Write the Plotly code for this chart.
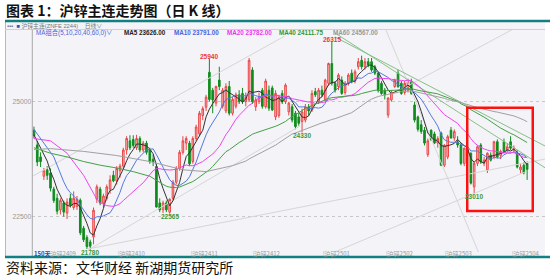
import plotly.graph_objects as go
import pandas as pd

# ---------------- data ----------------
opens = [24380, 24060, 23800, 23380, 23520, 23450, 23100, 22900, 22650, 22800,
         22580, 22900, 22700, 22720, 22860, 22250, 22050, 21950, 22060, 22880,
         23100, 22800, 22900, 23100, 23400, 23280, 23500, 23600, 23950, 24150,
         24180, 24000, 24200, 23950, 24100, 23950, 23750, 23590, 22800, 22650,
         22800, 22600, 22900, 23250, 23550, 23900, 24100, 24100, 23700, 24200,
         24300, 24700, 24880, 25640, 25250, 24970, 25470, 24900, 24800, 25330,
         24750, 24900, 25150, 25180, 25000, 25040, 25690, 24890, 25000, 25250,
         24890, 25250, 25300, 24670, 24700, 25180, 25000, 24780, 24890, 24750,
         24670, 24570, 24600, 24890, 24820, 25220, 25000, 25250, 25040, 25400,
         25830, 25400, 25330, 25470, 25200, 25400, 25620, 25450, 25760, 25900,
         25760, 25870, 25870, 25760, 25620, 25400, 25250, 24710, 25040, 25330,
         25620, 25400, 25200, 25250, 25450, 24930, 24670, 24500, 24380, 23850,
         24380, 24300, 24100, 24320, 23620, 23800, 24380, 24210, 24130, 24060,
         23660, 23950, 23880, 23150, 23660, 24060, 23660, 23520, 23840, 23800,
         24130, 23830, 24130, 23950, 24130, 23950, 23880, 23520, 23620, 23660]
highs = [24460, 24150, 23900, 23560, 23600, 23550, 23150, 23000, 22900, 22850,
         22900, 23000, 23050, 22950, 22900, 22300, 22100, 22000, 22700, 23200,
         23150, 23000, 23200, 23400, 23500, 23600, 23650, 24000, 24250, 24270,
         24270, 24280, 24250, 24150, 24150, 24000, 23850, 23650, 22900, 22850,
         22850, 22900, 23300, 23600, 23950, 24250, 24250, 24150, 24250, 24500,
         24800, 24900, 25150, 25940, 25300, 25350, 25760, 25300, 25400, 25450,
         25100, 25200, 25250, 25300, 25200, 25950, 25750, 25100, 25200, 25300,
         25500, 25350, 25350, 25250, 25150, 25250, 25400, 25000, 24950, 24800,
         24750, 24850, 24950, 24950, 25250, 25300, 25300, 25350, 25500, 25850,
         26315, 25450, 25620, 25550, 25450, 25620, 25700, 25700, 25950, 26000,
         25950, 25950, 25950, 25800, 25650, 25450, 25300, 25100, 25250, 25500,
         25700, 25450, 25450, 25500, 25500, 25000, 24700, 24600, 24450, 24200,
         24400, 24350, 24250, 24350, 24080, 24280, 24450, 24400, 24250, 24100,
         24000, 24000, 23900, 23700, 24050, 24100, 23800, 23900, 23900, 24150,
         24180, 23960, 24200, 24100, 24250, 24050, 23950, 23650, 23680, 23700]
lows = [24200, 23600, 23580, 23300, 23300, 23050, 22800, 22550, 22550, 22500,
        22450, 22700, 22650, 22650, 22100, 21950, 21800, 21780, 21900, 22800,
        22750, 22700, 22850, 23000, 23250, 23200, 23350, 23550, 23850, 23950,
        24000, 23950, 23900, 23900, 23850, 23650, 23600, 22700, 22600, 22580,
        22600, 22565, 22850, 23200, 23500, 23850, 23950, 23600, 23650, 24150,
        24250, 24600, 24800, 25000, 24750, 24900, 25250, 24850, 24750, 24700,
        24700, 24850, 24950, 24950, 24900, 25000, 24950, 24800, 24950, 24850,
        24850, 24800, 24800, 24600, 24650, 24950, 24950, 24700, 24550, 24400,
        24480, 24330, 24550, 24700, 24780, 25100, 24950, 25100, 25000, 25350,
        25350, 25200, 25250, 25150, 25150, 25350, 25400, 25400, 25700, 25700,
        25700, 25750, 25650, 25580, 25200, 25150, 25050, 24650, 25000, 25300,
        25300, 25150, 25150, 25200, 25150, 24550, 24350, 24300, 24050, 23800,
        24150, 24080, 24000, 23600, 23580, 23750, 24200, 24150, 24000, 23620,
        23600, 23800, 23200, 23010, 23600, 23650, 23600, 23450, 23700, 23750,
        23770, 23750, 23880, 23900, 23950, 23900, 23550, 23450, 23420, 23300]
closes = [24260, 23690, 23700, 23500, 23400, 23120, 22850, 22620, 22850, 22600,
          22820, 22750, 22900, 22880, 22150, 22000, 21850, 21860, 22640, 23150,
          22800, 22950, 23150, 23300, 23280, 23550, 23600, 23950, 24200, 24000,
          24050, 24200, 23950, 24100, 23900, 23700, 23700, 22710, 22650, 22800,
          22650, 22880, 23250, 23550, 23900, 24150, 24200, 23650, 24200, 24450,
          24750, 24850, 25100, 25050, 25040, 25330, 25330, 25250, 25330, 24750,
          25050, 25150, 25000, 25000, 25100, 25900, 25000, 25040, 25100, 24900,
          25450, 24860, 24820, 25180, 25100, 25000, 25360, 24970, 24600, 24460,
          24530, 24780, 24890, 24800, 25180, 25150, 25250, 25150, 25470, 25830,
          25400, 25250, 25580, 25180, 25400, 25580, 25430, 25650, 25870, 25760,
          25870, 25800, 25690, 25620, 25250, 25180, 25150, 25080, 25210, 25470,
          25330, 25180, 25400, 25430, 25180, 24600, 24400, 24350, 24100, 24150,
          24170, 24100, 24200, 23620, 24050, 24240, 24210, 24350, 24060, 23660,
          23990, 23880, 23230, 23660, 24020, 23690, 23730, 23880, 23730, 24130,
          23800, 23920, 23910, 24020, 23990, 23990, 23580, 23580, 23450, 23530]

# moving averages: early part (window reaches before the first visible bar)
ma_periods = [5, 10, 20, 40, 60]
ma_head = {
    5: {0: 24280, 2: 23980},
    10: {0: 24400, 3: 24100, 6: 23800},
    20: {0: 24200, 5: 24150, 10: 23880, 15: 23400},
    40: {0: 24000, 5: 23880, 10: 23800, 15: 23700, 20: 23620, 25: 23560, 30: 23480, 35: 23380},
    60: {0: 23960, 5: 23980, 15: 23920, 25: 23830, 35: 23700, 45: 23520, 52: 23480, 56: 23540},
}
ma_last_values = ["23626.00", "23791.00", "23782.00", "24111.75", "24567.00"]
ma_colors = ["#333333", "#5577dd", "#ee44ee", "#44a044", "#a0a0a0"]
ma_label_colors = ["#222222", "#4466dd", "#ee33ee", "#339933", "#999999"]

# marked extremes: (bar index, 'H' or 'L')
extremes = [(53, "H"), (90, "H"), (81, "L"), (41, "L"), (17, "L"), (133, "L")]

# contract roll labels (bar index of first bar)
roll_idx = [4.2, 25, 47, 66, 87, 106, 124, 144]
roll_labels = ["沪锌2409", "沪锌2410", "沪锌2411", "沪锌2412", "沪锌2501", "沪锌2502", "沪锌2503", "沪锌2504"]

# user-drawn trend lines: (i0, p0, i1, p1, colour)
trend_lines = [
    (-0.3, 23385, 75.8, 26428, "#d6d6d6"),
    (16.3, 21798, 156, 23776, "#d6d6d6"),
    (16.9, 21798, 80.4, 24472, "#d6d6d6"),
    (106.1, 26602, 134.8, 21643, "#d6d6d6"),
    (110.6, 25254, 156, 27015, "#d6d6d6"),
    (90.9, 21733, 148.4, 23472, "#d6d6d6"),
    (90.95, 26494, 156, 23490, "#88c088"),
    (90.95, 26407, 154.4, 24037, "#88c088"),
]

# highlight box (bar index range, price range)
box_i = [130.9, 150.7]
box_p = [22625, 24870]

y_ticks = [22500, 25000]

# ---------------- figure ----------------
W, H = 550, 279
def px(x):
    return x / W
def py(y):
    return 1 - y / H

n = len(closes)
idx = list(range(n))
fig = go.Figure()

for (i0, p0, i1, p1, col) in trend_lines:
    fig.add_trace(go.Scatter(x=[i0, i1], y=[p0, p1], mode="lines",
                             line=dict(color=col, width=1), hoverinfo="skip"))

cs = pd.Series(closes)
for k, per in enumerate(ma_periods):
    head = ma_head[per]
    roll = cs.rolling(per).mean()
    xs = sorted(head) + list(range(per - 1, n))
    ys = [head[j] for j in sorted(head)] + list(roll.iloc[per - 1:])
    fig.add_trace(go.Scatter(x=xs, y=ys, mode="lines",
                             line=dict(color=ma_colors[k], width=1), hoverinfo="skip"))

fig.add_trace(go.Candlestick(
    x=idx, open=opens, high=highs, low=lows, close=closes,
    increasing=dict(line=dict(color="#ea4646", width=1), fillcolor="#f8bcbc"),
    decreasing=dict(line=dict(color="#118c1e", width=1), fillcolor="#118c1e"),
    whiskerwidth=0, hoverinfo="skip"))

ann = []
# extremes
for (i, kind) in extremes:
    if kind == "H":
        ann.append(dict(x=i, y=highs[i], xref="x", yref="y", text="<b>%d</b>" % highs[i], showarrow=False,
                        yanchor="middle", yshift=2, borderpad=0,
                        font=dict(size=6.5, color="#e83a3a", family="Liberation Sans")))
    else:
        ann.append(dict(x=i, y=lows[i], xref="x", yref="y", text="<b>%d</b>" % lows[i], showarrow=False,
                        yanchor="middle", yshift=-3, borderpad=0,
                        font=dict(size=6.5, color="#3d9a3d", family="Liberation Sans")))

# contract labels
for i, lab in zip(roll_idx, roll_labels):
    ann.append(dict(x=i, y=py(253), xref="x", yref="paper", text="¦" + lab, showarrow=False,
                    xanchor="left", yanchor="middle", borderpad=0,
                    font=dict(size=6, color="#9a9a9a", family="Noto Sans CJK SC")))
ann.append(dict(x=px(33), y=py(253), xref="paper", yref="paper", text="<b>150天</b>", showarrow=False,
                xanchor="left", yanchor="middle", borderpad=0,
                font=dict(size=6, color="#3344bb", family="Noto Sans CJK SC")))

# MA legend row
ma_x = [123, 173, 226, 278, 332]
ann.append(dict(x=px(35), y=py(32.5), xref="paper", yref="paper",
                text="MA组合(5,10,20,40,60,0)∨", showarrow=False, xanchor="left", yanchor="middle",
                borderpad=0,
                font=dict(size=6.3, color="#4466dd", family="Liberation Sans, Noto Sans CJK SC")))
for k, per in enumerate(ma_periods):
    ann.append(dict(x=px(ma_x[k]), y=py(32.5), xref="paper", yref="paper",
                    text="<b>MA%d %s</b>" % (per, ma_last_values[k]), showarrow=False,
                    xanchor="left", yanchor="middle", borderpad=0,
                    font=dict(size=6.3, color=ma_label_colors[k], family="Liberation Sans")))

# toolbar row
ann.append(dict(x=px(6), y=py(25.5), xref="paper", yref="paper",
                text="▪▪▪  <span style='color:#3355bb'>■</span> 沪锌主连(ZNFE 2244)    日线∨",
                showarrow=False, xanchor="left", yanchor="middle", borderpad=0,
                font=dict(size=5.8, color="#777777", family="Liberation Sans, Noto Sans CJK SC")))

# title & source
ann.append(dict(x=px(4), y=py(10.5), xref="paper", yref="paper",
                text="<b>图表 1：沪锌主连走势图（日 K 线）</b>", showarrow=False,
                xanchor="left", yanchor="middle",
                font=dict(size=14, color="#111111", family="Noto Sans CJK SC")))
ann.append(dict(x=px(4), y=py(267), xref="paper", yref="paper",
                text="资料来源：文华财经 新湖期货研究所", showarrow=False,
                xanchor="left", yanchor="middle",
                font=dict(size=14, color="#111111", family="Noto Sans CJK SC")))

shapes = [
    # panel background
    dict(type="rect", xref="paper", yref="paper", x0=px(5), x1=px(545), y0=py(256), y1=py(22),
         fillcolor="#f3f3f8", line=dict(width=0), layer="below"),
    dict(type="line", xref="paper", yref="paper", x0=px(5.5), x1=px(5.5), y0=py(256), y1=py(22),
         line=dict(color="#b8b8b8", width=1)),
    dict(type="line", xref="paper", yref="paper", x0=px(5), x1=px(545), y0=py(29.5), y1=py(29.5),
         line=dict(color="#d0d0d0", width=1)),
    dict(type="line", xref="paper", yref="paper", x0=px(32.3), x1=px(32.3), y0=py(256), y1=py(29.5),
         line=dict(color="#a8a8a8", width=1)),
    # teal rules
    dict(type="line", xref="paper", yref="paper", x0=px(5), x1=px(550), y0=py(21), y1=py(21),
         line=dict(color="#127f80", width=2.5)),
    dict(type="line", xref="paper", yref="paper", x0=px(5), x1=px(550), y0=py(257), y1=py(257),
         line=dict(color="#127f80", width=2.5)),
    # highlight box
    dict(type="rect", xref="x", yref="y", x0=box_i[0], x1=box_i[1], y0=box_p[0], y1=box_p[1],
         line=dict(color="#ff1010", width=2.5), fillcolor="rgba(0,0,0,0)"),
]

fig.update_layout(
    width=W, height=H, margin=dict(l=0, r=0, t=0, b=0),
    paper_bgcolor="white", plot_bgcolor="#f3f3f8",
    showlegend=False, annotations=ann, shapes=shapes,
    xaxis=dict(domain=[px(32.3), px(545)], range=[-0.5, 154.4], showgrid=False, zeroline=False,
               showticklabels=False, rangeslider=dict(visible=False), fixedrange=True),
    yaxis=dict(domain=[py(252), py(30)], range=[21733, 26559], showgrid=True,
               gridcolor="#c8c8c8", griddash="dot", gridwidth=1, zeroline=False, fixedrange=True,
               tickvals=y_ticks, ticktext=[str(v) for v in y_ticks], ticks="",
               tickfont=dict(size=6.8, color="#999999", family="Liberation Sans")),
)

fig.write_html("out.html", config={"displayModeBar": False, "staticPlot": True},
               post_script="document.body.style.margin='0';document.body.style.padding='0';"
                           "document.documentElement.style.overflow='hidden';")
